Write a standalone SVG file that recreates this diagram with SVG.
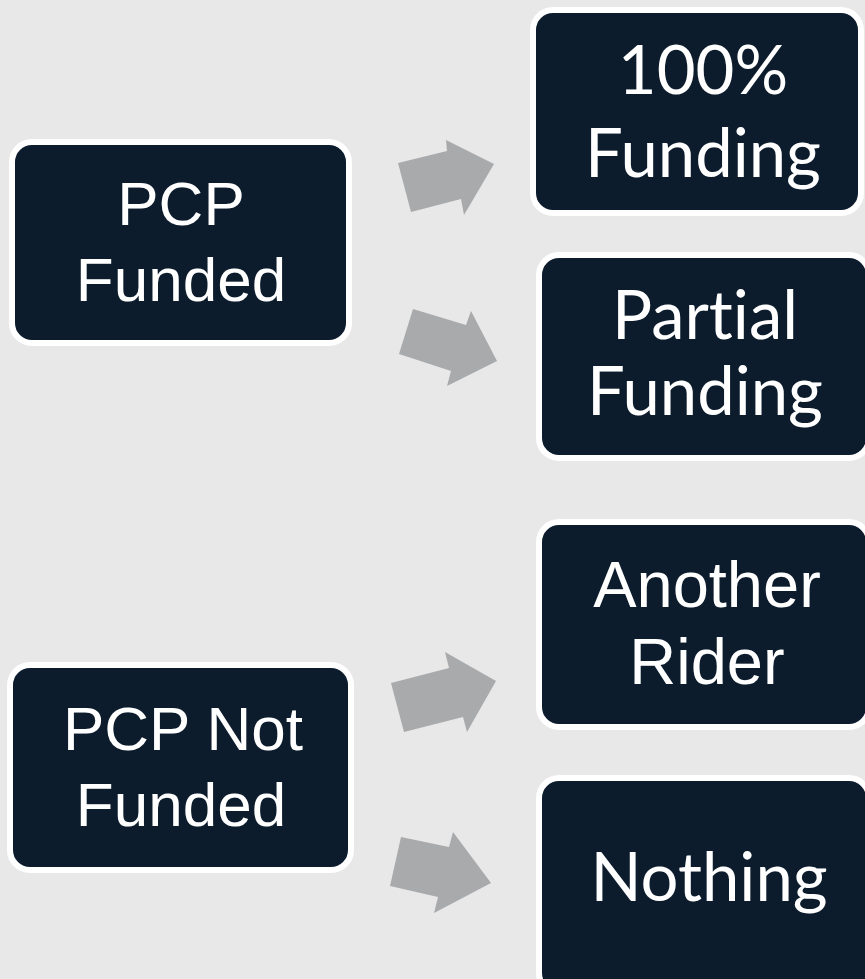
<svg xmlns="http://www.w3.org/2000/svg" width="865" height="979" viewBox="0 0 865 979">
<style>
.box{fill:#0c1c2c;stroke:#ffffff;stroke-width:6}
.arr{fill:#a9aaac}
.ta{font-family:"Liberation Sans",Arial,sans-serif;fill:#ffffff;text-anchor:middle}
.tc{font-family:Lato,"Open Sans",sans-serif;fill:#ffffff;text-anchor:middle;font-size:67px;font-variant-ligatures:none;font-feature-settings:"liga" 0}
</style>
<rect width="865" height="979" fill="#e8e8e8"/>
<g id="connectors">
<polygon class="arr" points="398,163 447,151 446,140 494,164 464,215 461,199 411,212"/>
<polygon class="arr" points="413,309 466,325 471,311 497,361 447,386 451,371 399,354"/>
<polygon class="arr" points="391,683 449,668 445,652 496,681 467,732 463,717 404,732"/>
<polygon class="arr" points="401,837 449,847 453,832 491,883 434,913 438,897 390,886"/>
</g>
<g id="pcp-funded">
<rect class="box" x="12" y="142" width="337" height="201" rx="20"/>
<text class="ta" font-size="62" x="181" y="225">PCP</text>
<text class="ta" font-size="62" x="181" y="301">Funded</text>
</g>
<g id="pcp-not-funded">
<rect class="box" x="10" y="665" width="341" height="205" rx="20"/>
<text class="ta" font-size="62" x="183" y="750">PCP Not</text>
<text class="ta" font-size="62" x="181" y="826">Funded</text>
</g>
<g id="full-funding">
<rect class="box" x="533" y="10" width="328" height="203" rx="20"/>
<text class="tc" x="703" y="94">100%</text>
<text class="tc" x="703" y="177">Funding</text>
</g>
<g id="partial-funding">
<rect class="box" x="539" y="255" width="330" height="203" rx="20"/>
<text class="tc" x="705" y="339">Partial</text>
<text class="tc" x="705" y="415">Funding</text>
</g>
<g id="another-rider">
<rect class="box" x="539" y="522" width="330" height="205" rx="20"/>
<text class="ta" font-size="65" x="707" y="607">Another</text>
<text class="ta" font-size="65" x="707" y="684">Rider</text>
</g>
<g id="nothing">
<rect class="box" x="539" y="778" width="330" height="215" rx="20"/>
<text class="tc" x="709" y="901">Nothing</text>
</g>
</svg>
